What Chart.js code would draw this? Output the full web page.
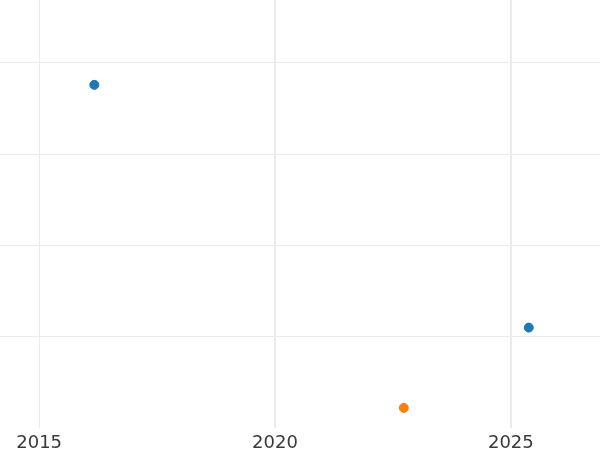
<!DOCTYPE html>
<html>
<head>
<meta charset="utf-8">
<script src="https://cdn.jsdelivr.net/npm/chart.js@4/dist/chart.umd.min.js"></script>
<style>
	html, body { margin: 0; padding: 0; background: #fff; }
	#wrap { width: 600px; height: 450px; }
</style>
</head>
<body>
<div id="wrap"><canvas id="scatterChart"></canvas></div>
<script>
// data block
const blueYears = [2016.17, 2025.38];
const blueValues = [3.76, 1.10];
const orangeYears = [2022.73];
const orangeValues = [0.22];
const xTickYears = [2015, 2020, 2025];
const yGridValues = [1, 2, 3, 4];

const toPoints = (xs, ys) => xs.map((x, i) => ({ x: x, y: ys[i] }));

// config block
const config = {
	type: 'scatter',
	data: {
		datasets: [
			{
				label: 'Blue',
				data: toPoints(blueYears, blueValues),
				backgroundColor: '#1f77b4',
				borderColor: '#1f77b4',
				pointRadius: 4.5,
				pointHoverRadius: 4.5,
			},
			{
				label: 'Orange',
				data: toPoints(orangeYears, orangeValues),
				backgroundColor: '#ff7f0e',
				borderColor: '#ff7f0e',
				pointRadius: 4.5,
				pointHoverRadius: 4.5,
			},
		],
	},
	options: {
		responsive: true,
		maintainAspectRatio: false,
		animation: false,
		layout: { padding: 0, autoPadding: false },
		plugins: {
			legend: { display: false },
			tooltip: { enabled: false },
		},
		scales: {
			x: {
				type: 'linear',
				min: 2014.17,
				max: 2026.89,
				afterBuildTicks: (scale) => {
					scale.ticks = xTickYears.map((v) => ({ value: v }));
				},
				// keep the label strip the same height as the reference
				afterFit: (scale) => {
					scale.height = 22;
				},
				border: { display: false },
				grid: {
					color: '#ebebeb',
					lineWidth: (ctx) => (ctx.tick && ctx.tick.value === 2015 ? 1 : 2),
					drawTicks: false,
				},
				ticks: {
					padding: 6,
					color: '#3a3a3a',
					font: { family: 'DejaVu Sans', size: 18, lineHeight: 1 },
					callback: (v) => String(v),
				},
			},
			y: {
				type: 'linear',
				min: 0,
				max: 4.69,
				afterBuildTicks: (scale) => {
					scale.ticks = yGridValues.map((v) => ({ value: v }));
				},
				ticks: { display: false },
				border: { display: false },
				grid: {
					color: '#ebebeb',
					lineWidth: 1,
					drawTicks: false,
				},
			},
		},
	},
};

// render block
const myChart = new Chart(document.getElementById('scatterChart'), config);
</script>
</body>
</html>
